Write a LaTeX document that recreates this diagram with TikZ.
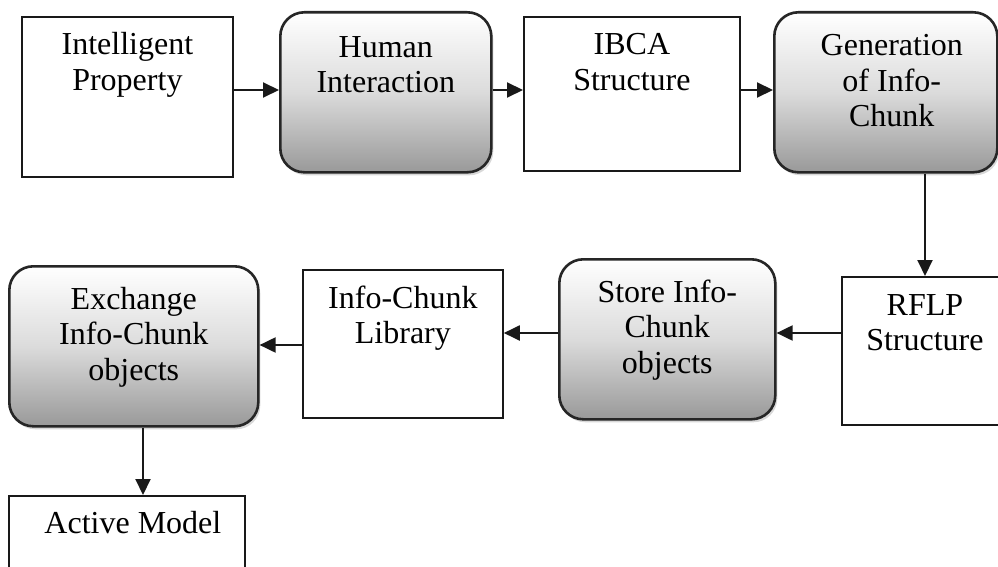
\documentclass[tikz,border=0pt]{standalone}
\usepackage{fontspec}
\setmainfont{Liberation Serif}
\usetikzlibrary{arrows.meta,shadows,calc}
\begin{document}
\begin{tikzpicture}[x=1pt,y=-1pt,
  plainbox/.style={draw=black!90, line width=1.8pt, fill=white, inner sep=0pt, anchor=north west},
  roundbox/.style={draw=black!85, line width=2.6pt, rounded corners=24pt, inner sep=0pt, anchor=north west,
    top color=white, bottom color=black!40, middle color=black!14,
    drop shadow={shadow xshift=2pt, shadow yshift=-3pt, opacity=0.3}},
  lbl/.style={font=\fontsize{32}{35.5}\selectfont, align=center, inner sep=0pt, anchor=base},
  arr/.style={line width=2pt, draw=black!90, -{Triangle[length=16pt,width=15pt]}}]
\clip (0,0) rectangle (998,567);
\fill[white] (0,0) rectangle (998,567);
% boxes
\node[plainbox, minimum width=211pt, minimum height=160pt] (ip) at (21,16) {};
\node[roundbox, minimum width=211pt, minimum height=160pt] (hi) at (279,11) {};
\node[plainbox, minimum width=216pt, minimum height=154pt] (ibca) at (523,16) {};
\node[roundbox, minimum width=223pt, minimum height=160pt] (gen) at (773,11) {};
\node[plainbox, minimum width=166pt, minimum height=148pt] (rflp) at (841,276) {};
\node[roundbox, minimum width=216pt, minimum height=160pt] (store) at (558,258) {};
\node[plainbox, minimum width=200pt, minimum height=148pt] (lib) at (302,269) {};
\node[roundbox, minimum width=249pt, minimum height=160pt] (exch) at (8,265) {};
\node[plainbox, minimum width=236pt, minimum height=110pt] (active) at (8,495) {};
% labels (anchor base = baseline of last line)
\node[lbl] (ipt) at ($(ip.north)+(0,74.5)$) {Intelligent\\Property};
\node[lbl] (hit) at ($(hi.north)+(0,81.5)$) {Human\\Interaction};
\node[lbl] (ibcat) at ($(ibca.north)+(0,74.5)$) {IBCA\\Structure};
\node[lbl] (gent) at ($(gen.north)+(6,116)$) {Generation\\of Info-\\Chunk};
\node[lbl] (rflpt) at ($(rflp.north)+(0,74.5)$) {RFLP\\Structure};
\node[lbl] (storet) at ($(store.north)+(0,115)$) {Store Info-\\Chunk\\objects};
\node[lbl] (libt) at ($(lib.north)+(0,74.5)$) {Info-Chunk\\Library};
\node[lbl] (excht) at ($(exch.north)+(0,115)$) {Exchange\\Info-Chunk\\objects};
\node[lbl] (activet) at ($(active.north)+(6,38)$) {Active Model};
% connectors
\draw[arr] (ip.east |- 0,90) -- (hi.west |- 0,90);
\draw[arr] (hi.east |- 0,90) -- (ibca.west |- 0,90);
\draw[arr] (ibca.east |- 0,90) -- (gen.west |- 0,90);
\draw[arr] (gen.south -| 925,0) -- (rflp.north -| 925,0);
\draw[arr] (rflp.west |- 0,333) -- (store.east |- 0,333);
\draw[arr] (store.west |- 0,333) -- (lib.east |- 0,333);
\draw[arr] (lib.west |- 0,345) -- (exch.east |- 0,345);
\draw[arr] (exch.south -| 143,0) -- (active.north -| 143,0);
\end{tikzpicture}
\end{document}
